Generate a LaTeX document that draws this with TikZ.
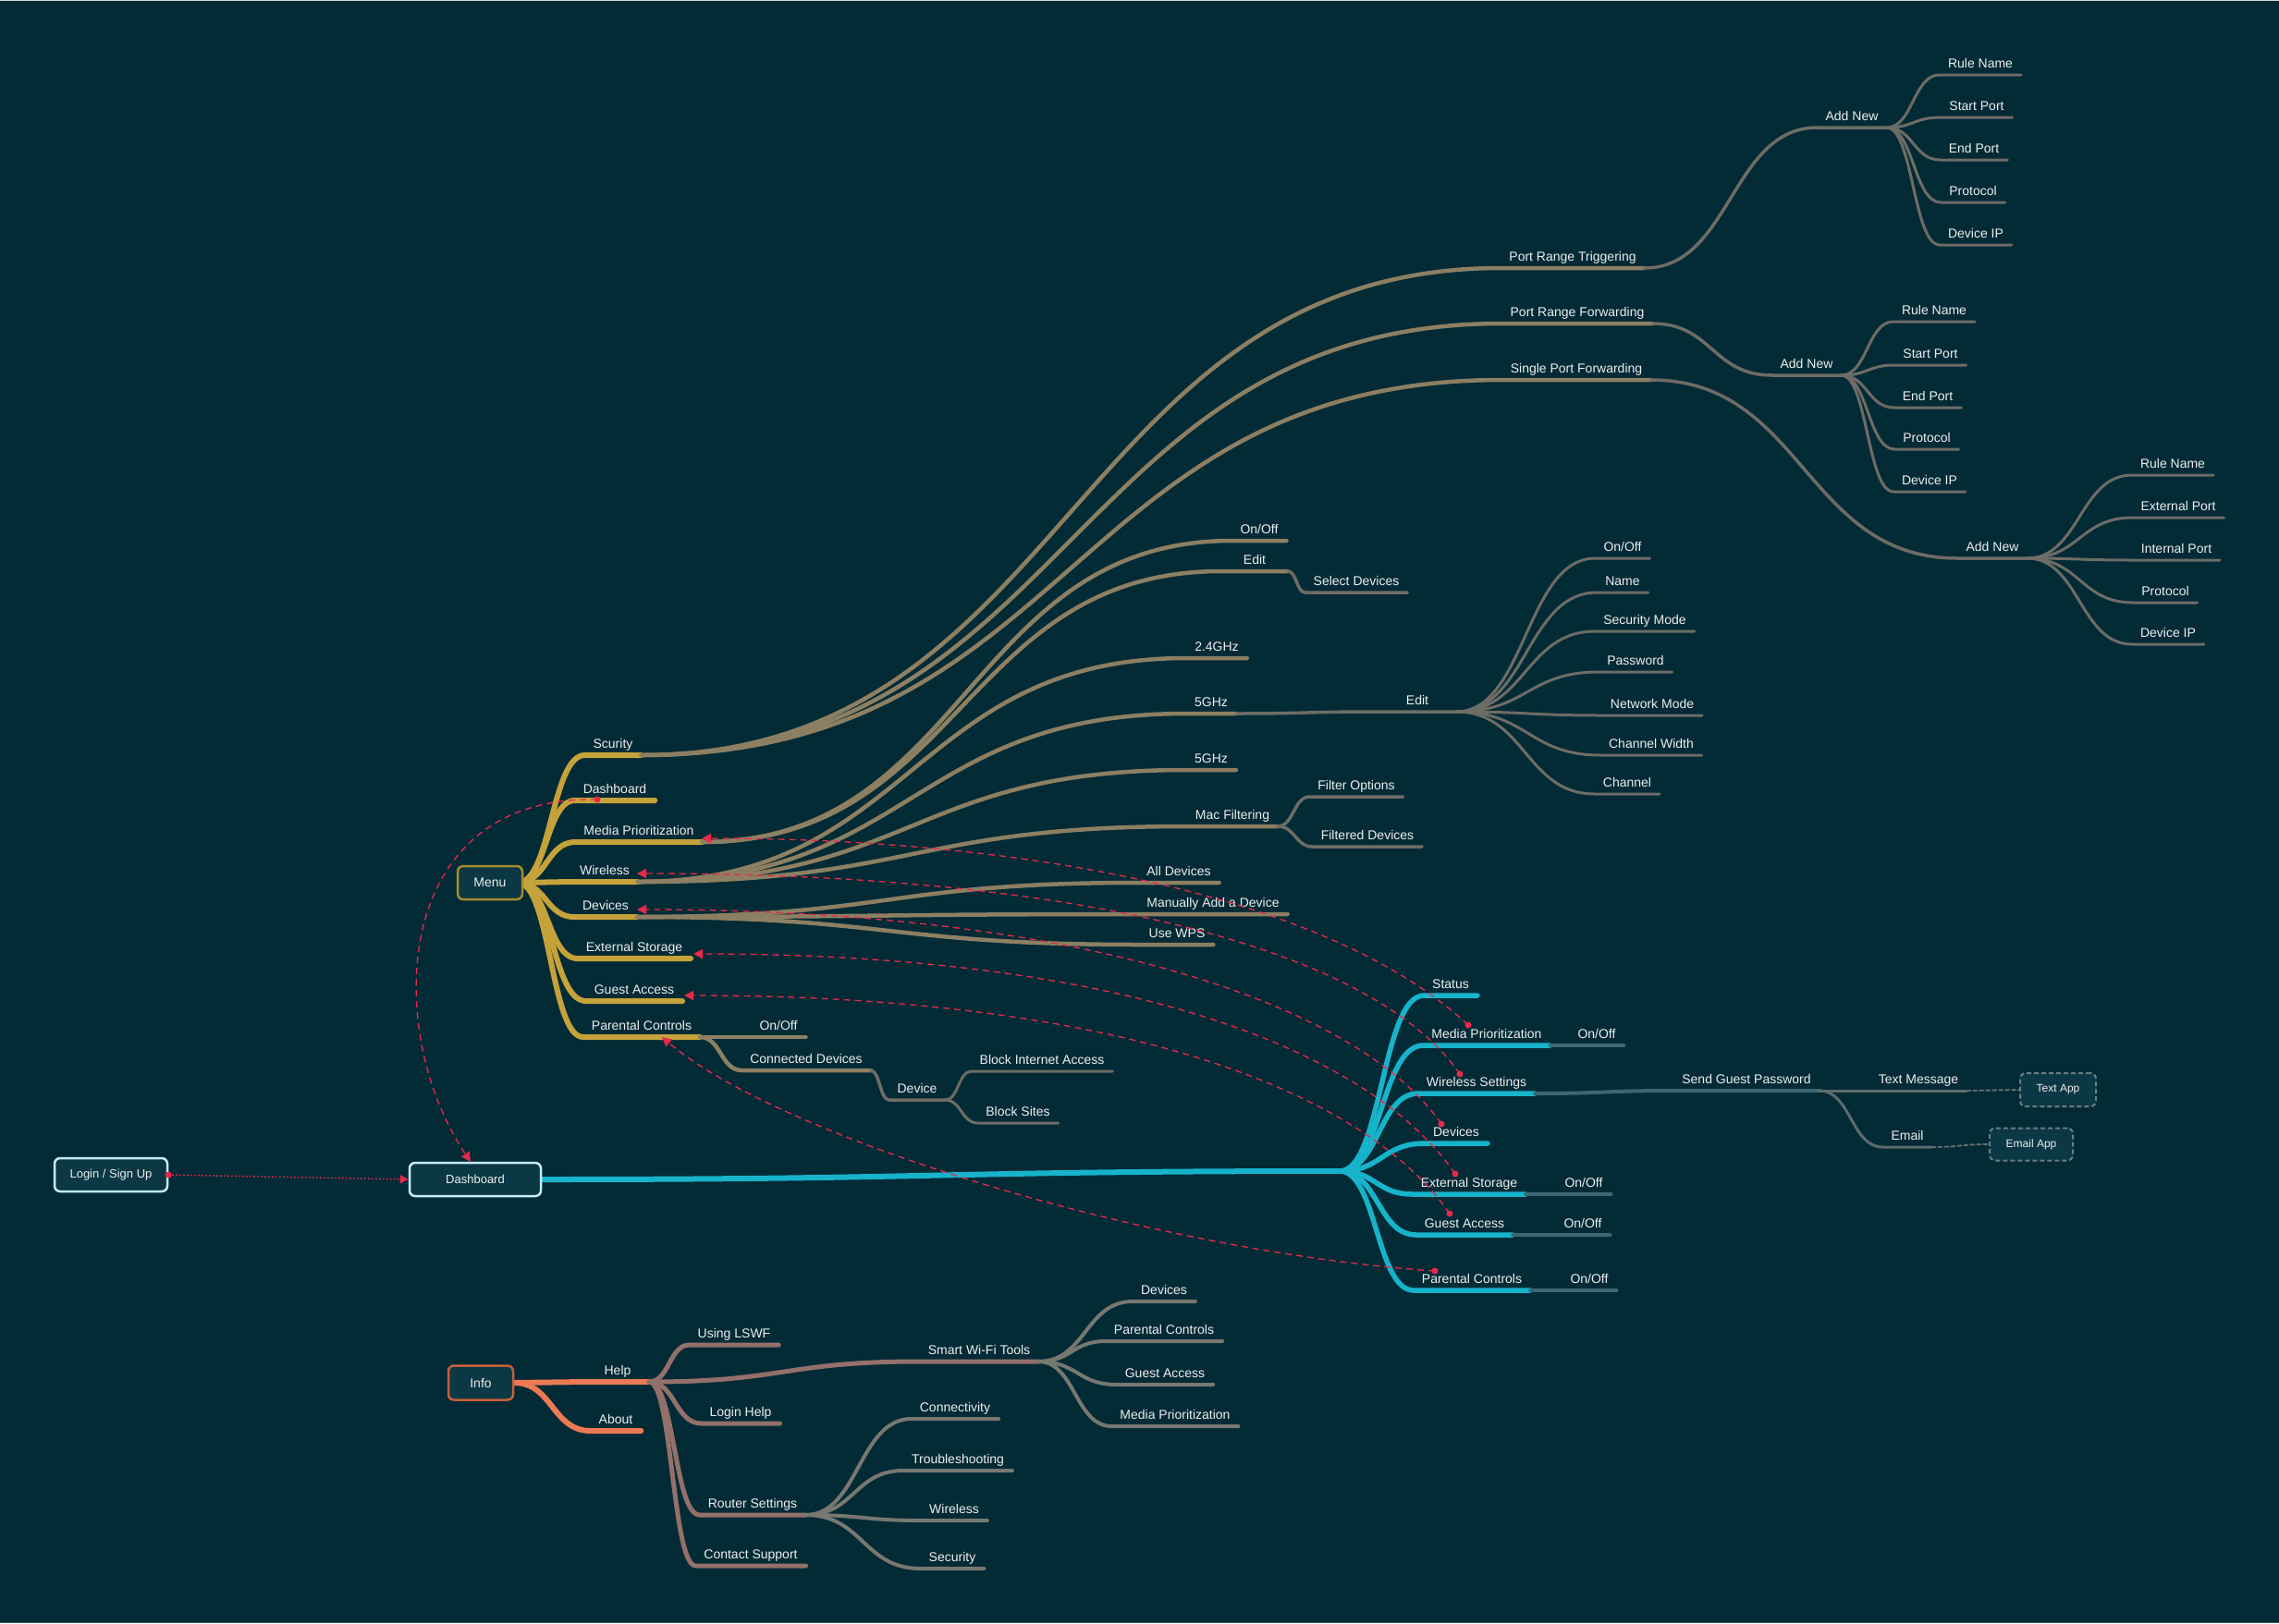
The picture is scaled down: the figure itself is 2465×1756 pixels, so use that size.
\documentclass[tikz,border=0pt]{standalone}
\usepackage{fontspec}
\setmainfont{Liberation Sans}
\usetikzlibrary{calc,arrows.meta}
\pgfdeclarelayer{back}
\pgfdeclarelayer{bg}
\pgfsetlayers{back,bg,main}
\definecolor{bgc}{HTML}{032B36}
\definecolor{gold}{HTML}{C5A23A}
\definecolor{taupe}{HTML}{8C7F62}
\definecolor{greyA}{HTML}{6E6C66}
\definecolor{cyanL}{HTML}{17B3CB}
\definecolor{tealD}{HTML}{3A6772}
\definecolor{greyT}{HTML}{5E6B6D}
\definecolor{orangeL}{HTML}{EC7A55}
\definecolor{rosy}{HTML}{93706A}
\definecolor{greyG}{HTML}{777870}
\definecolor{redL}{HTML}{E8294A}
\definecolor{boxfill}{HTML}{0B3844}
\definecolor{boxcyan}{HTML}{C3ECF6}
\definecolor{boxgold}{HTML}{A68B2C}
\definecolor{boxorange}{HTML}{C9603A}
\definecolor{boxgrey}{HTML}{6B7D83}
\definecolor{txt}{HTML}{EEEEEE}
\definecolor{edgetop}{HTML}{D5DCDC}
\definecolor{edgebot}{HTML}{2C5662}
\tikzset{
  lbl/.style={anchor=south, font=\fontsize{14}{16}\selectfont, text=txt, inner xsep=9pt, inner ysep=5pt, text height=10pt, text depth=3pt, outer sep=0pt},
  S/.style={to path={let \p1=(\tikztostart), \p2=(\tikztotarget) in .. controls ({(\x1+\x2)/2},\y1) and ({(\x1+\x2)/2},\y2) .. (\tikztotarget)}},
  ln/.style={line cap=round, line join=round},
  Lgold/.style={ln, draw=gold, line width=6pt},
  Ltaupe/.style={ln, draw=taupe, line width=4.5pt},
  Lgrey/.style={ln, draw=greyA, line width=3.5pt},
  Lgreyth/.style={ln, draw=greyA, line width=3pt},
  Lcyan/.style={ln, draw=cyanL, line width=5.5pt},
  Lteal/.style={ln, draw=tealD, line width=4pt},
  Lgt/.style={ln, draw=greyT, line width=3pt},
  Lorange/.style={ln, draw=orangeL, line width=6pt},
  Lrosy/.style={ln, draw=rosy, line width=5pt},
  Lgg/.style={ln, draw=greyG, line width=4pt},
  box/.style={draw, rounded corners=6pt, fill=boxfill, minimum height=36pt, font=\fontsize{13}{15}\selectfont, text=txt, line width=2.5pt, inner sep=0pt},
  appbox/.style={box, draw=boxgrey, dash pattern=on 5pt off 3pt, line width=2pt, font=\fontsize{12}{14}\selectfont},
  reddash/.style={draw=redL, line width=1.3pt, dash pattern=on 7pt off 5pt, -{Triangle[length=10pt,width=10pt]}},
  appdash/.style={ln, draw=greyT, line width=2pt, dash pattern=on 4pt off 3pt},
}
\newcommand\br[3]{\draw[#1] (#2) to[S] (#3.south west) -- (#3.south east);}
\begin{document}
\begin{tikzpicture}[x=1pt,y=-1pt]
\begin{pgfonlayer}{back}
\fill[bgc] (0,0) rectangle (2465,1756);
\fill[edgetop] (0,0) rectangle (2465,1.3);
\fill[edgebot] (0,1754.8) rectangle (2465,1756);
\end{pgfonlayer}
\useasboundingbox (0,0) rectangle (2465,1756);
% boxes
\node[box, draw=boxcyan, minimum width=122pt] (login) at (120,1271) {Login / Sign Up};
\node[box, draw=boxcyan, minimum width=142pt] (dash) at (514,1276) {Dashboard};
\node[box, draw=boxgold, minimum width=70pt, font=\fontsize{14}{16}\selectfont] (menu) at (530,955) {Menu};
\node[box, draw=boxorange, minimum width=70pt, minimum height=37pt, font=\fontsize{14}{16}\selectfont] (info) at (520,1496) {Info};
\node[appbox, minimum width=82pt] (tapp) at (2226,1179) {Text App};
\node[appbox, minimum width=90pt, minimum height=35pt] (eapp) at (2197,1238) {Email App};
\coordinate (mo) at (560,955);
\coordinate (dfan) at (1449,1267);
% menu children
\node[lbl] (m1) at (663,817) {Scurity};
\node[lbl] (m2) at (665,866) {Dashboard};
\node[lbl] (m3) at (691,911) {Media Prioritization};
\node[lbl] (m4) at (654,954) {Wireless};
\node[lbl] (m5) at (655,992) {Devices};
\node[lbl] (m6) at (686,1037) {External Storage};
\node[lbl] (m7) at (686,1083) {Guest Access};
\node[lbl] (m8) at (694,1122) {Parental Controls};
% security
\node[lbl] (s1) at (1701,290) {Port Range Triggering};
\node[lbl] (s2) at (1706,350) {Port Range Forwarding};
\node[lbl] (s3) at (1705,411) {Single Port Forwarding};
\node[lbl] (a1) at (2003,138) {Add New};
\node[lbl] (a1a) at (2142,81) {Rule Name};
\node[lbl] (a1b) at (2138,127) {Start Port};
\node[lbl] (a1c) at (2135,173) {End Port};
\node[lbl] (a1d) at (2134,219) {Protocol};
\node[lbl] (a1e) at (2137,265) {Device IP};
\node[lbl] (a2) at (1954,406) {Add New};
\node[lbl] (a2a) at (2092,348) {Rule Name};
\node[lbl] (a2b) at (2088,395) {Start Port};
\node[lbl] (a2c) at (2085,441) {End Port};
\node[lbl] (a2d) at (2084,486) {Protocol};
\node[lbl] (a2e) at (2087,532) {Device IP};
\node[lbl] (a3) at (2155,604) {Add New};
\node[lbl] (a3a) at (2350,514) {Rule Name};
\node[lbl] (a3b) at (2356,560) {External Port};
\node[lbl] (a3c) at (2354,606) {Internal Port};
\node[lbl] (a3d) at (2342,652) {Protocol};
\node[lbl] (a3e) at (2345,697) {Device IP};
% media prioritization
\node[lbl] (mp1) at (1362,585) {On/Off};
\node[lbl, minimum width=72pt] (mp2) at (1357,618) {Edit};
\node[lbl] (mp3) at (1467,641) {Select Devices};
% wireless
\node[lbl] (w1) at (1316,712) {2.4GHz};
\node[lbl] (w2) at (1310,772) {5GHz};
\node[lbl, minimum width=84pt] (w2e) at (1533,770) {Edit};
\node[lbl] (e1) at (1755,604) {On/Off};
\node[lbl] (e2) at (1755,641) {Name};
\node[lbl] (e3) at (1779,683) {Security Mode};
\node[lbl] (e4) at (1769,727) {Password};
\node[lbl] (e5) at (1787,774) {Network Mode};
\node[lbl] (e6) at (1786,817) {Channel Width};
\node[lbl] (e7) at (1760,859) {Channel};
\node[lbl] (w3) at (1310,833) {5GHz};
\node[lbl] (w4) at (1333,894) {Mac Filtering};
\node[lbl] (w4a) at (1467,862) {Filter Options};
\node[lbl] (w4b) at (1479,916) {Filtered Devices};
% devices
\node[lbl] (d1) at (1275,955) {All Devices};
\node[lbl] (d2) at (1312,989) {Manually Add a Device};
\node[lbl] (d3) at (1273,1022) {Use WPS};
% parental controls
\node[lbl] (p1) at (842,1122) {On/Off};
\node[lbl] (p2) at (872,1158) {Connected Devices};
\node[lbl] (p3) at (992,1190) {Device};
\node[lbl] (p4) at (1127,1159) {Block Internet Access};
\node[lbl] (p5) at (1101,1215) {Block Sites};
% dashboard children
\node[lbl] (c1) at (1569,1077) {Status};
\node[lbl] (c2) at (1608,1131) {Media Prioritization};
\node[lbl] (c2a) at (1727,1131) {On/Off};
\node[lbl] (c3) at (1597,1183) {Wireless Settings};
\node[lbl] (c3a) at (1889,1180) {Send Guest Password};
\node[lbl] (c3b) at (2075,1180) {Text Message};
\node[lbl] (c3c) at (2063,1241) {Email};
\node[lbl] (c4) at (1575,1237) {Devices};
\node[lbl] (c5) at (1589,1292) {External Storage};
\node[lbl] (c5a) at (1713,1292) {On/Off};
\node[lbl] (c6) at (1584,1336) {Guest Access};
\node[lbl] (c6a) at (1712,1336) {On/Off};
\node[lbl] (c7) at (1592,1396) {Parental Controls};
\node[lbl] (c7a) at (1719,1396) {On/Off};
% info
\node[lbl, minimum width=68pt] (i1) at (668,1495) {Help};
\node[lbl] (i2) at (666,1548) {About};
\node[lbl] (h1) at (794,1455) {Using LSWF};
\node[lbl] (h2) at (1059,1473) {Smart Wi-Fi Tools};
\node[lbl] (h2a) at (1259,1408) {Devices};
\node[lbl] (h2b) at (1259,1451) {Parental Controls};
\node[lbl] (h2c) at (1260,1498) {Guest Access};
\node[lbl] (h2d) at (1271,1543) {Media Prioritization};
\node[lbl] (h3) at (801,1540) {Login Help};
\node[lbl] (h4) at (814,1639) {Router Settings};
\node[lbl] (h4a) at (1033,1535) {Connectivity};
\node[lbl] (h4b) at (1036,1591) {Troubleshooting};
\node[lbl] (h4c) at (1032,1645) {Wireless};
\node[lbl] (h4d) at (1030,1697) {Security};
\node[lbl] (h5) at (812,1694) {Contact Support};

\begin{pgfonlayer}{bg}
\foreach \q in {m1,m2,m3,m4,m5,m6,m7,m8} {\br{Lgold}{mo}{\q}}
\foreach \q in {s1,s2,s3} {\br{Ltaupe}{m1.south east}{\q}}
\br{Lgrey}{s1.south east}{a1}
\br{Lgrey}{s2.south east}{a2}
\br{Lgrey}{s3.south east}{a3}
\foreach \q in {a1a,a1b,a1c,a1d,a1e} {\br{Lgreyth}{a1.south east}{\q}}
\foreach \q in {a2a,a2b,a2c,a2d,a2e} {\br{Lgreyth}{a2.south east}{\q}}
\foreach \q in {a3a,a3b,a3c,a3d,a3e} {\br{Lgreyth}{a3.south east}{\q}}
\br{Ltaupe}{m3.south east}{mp1}
\br{Ltaupe}{m3.south east}{mp2}
\br{Lgrey}{mp2.south east}{mp3}
\foreach \q in {w1,w2,w3,w4} {\br{Ltaupe}{m4.south east}{\q}}
\br{Lgrey}{w2.south east}{w2e}
\foreach \q in {e1,e2,e3,e4,e5,e6,e7} {\br{Lgreyth}{w2e.south east}{\q}}
\br{Lgrey}{w4.south east}{w4a}
\br{Lgrey}{w4.south east}{w4b}
\foreach \q in {d1,d2,d3} {\br{Ltaupe}{m5.south east}{\q}}
\br{Ltaupe}{m8.south east}{p1}
\br{Ltaupe}{m8.south east}{p2}
\br{Lgrey}{p2.south east}{p3}
\br{Lgreyth}{p3.south east}{p4}
\br{Lgreyth}{p3.south east}{p5}
% dashboard
\draw[Lcyan, line width=6pt] (dash.east) to[S] (dfan);
\foreach \q in {c1,c2,c3,c4,c5,c6,c7} {\br{Lcyan}{dfan}{\q}}
\br{Lteal}{c2.south east}{c2a}
\br{Lteal}{c3.south east}{c3a}
\br{Lgt}{c3a.south east}{c3b}
\br{Lgt}{c3a.south east}{c3c}
\br{Lteal}{c5.south east}{c5a}
\br{Lteal}{c6.south east}{c6a}
\br{Lteal}{c7.south east}{c7a}
\draw[appdash] (c3b.south east) -- (tapp.west);
\draw[appdash] (c3c.south east) to[S] (eapp.west);
% info
\br{Lorange}{info.east}{i1}
\br{Lorange}{info.east}{i2}
\foreach \q in {h1,h2,h3,h4,h5} {\br{Lrosy}{i1.south east}{\q}}
\foreach \q in {h2a,h2b,h2c,h2d} {\br{Lgg}{h2.south east}{\q}}
\foreach \q in {h4a,h4b,h4c,h4d} {\br{Lgg}{h4.south east}{\q}}
\end{pgfonlayer}

% red links
\coordinate (rd1) at (1588,1109); \coordinate (rt1) at (759,907);
\coordinate (rd2) at (1579,1162); \coordinate (rt2) at (689,945);
\coordinate (rd3) at (1559,1216); \coordinate (rt3) at (689,984);
\coordinate (rd4) at (1574,1270); \coordinate (rt4) at (750,1032);
\coordinate (rd5) at (1568,1313); \coordinate (rt5) at (740,1077);
\coordinate (rd6) at (1552,1375); \coordinate (rt6) at (716,1122);
\coordinate (rd7) at (646,865);   \coordinate (rt7) at ([xshift=-5pt]dash.north);
\draw[reddash] (rd1) .. controls +(-150,-140) and +(351,0) .. (rt1);
\draw[reddash] (rd2) .. controls +(-90,-130) and +(501,0) .. (rt2);
\draw[reddash] (rd3) .. controls +(-90,-130) and +(481,0) .. (rt3);
\draw[reddash] (rd4) .. controls +(-90,-130) and +(480,0) .. (rt4);
\draw[reddash] (rd5) .. controls +(-90,-130) and +(480,0) .. (rt5);
\draw[reddash] (rd6) .. controls +(-300,-20) and +(131,111) .. (rt6);
\draw[reddash] (rd7) .. controls +(-226,-5) and +(-94,-138) .. (rt7);
\foreach \d in {rd1,rd2,rd3,rd4,rd5,rd6,rd7} {\fill[redL] (\d) circle (3.5pt);}
\draw[redL, line width=1.5pt, dash pattern=on 1.5pt off 2.5pt, -{Triangle[length=9pt,width=9pt]}] (login.east) -- (dash.west);
\fill[redL] (login.east) circle (3.5pt);
\end{tikzpicture}
\end{document}
